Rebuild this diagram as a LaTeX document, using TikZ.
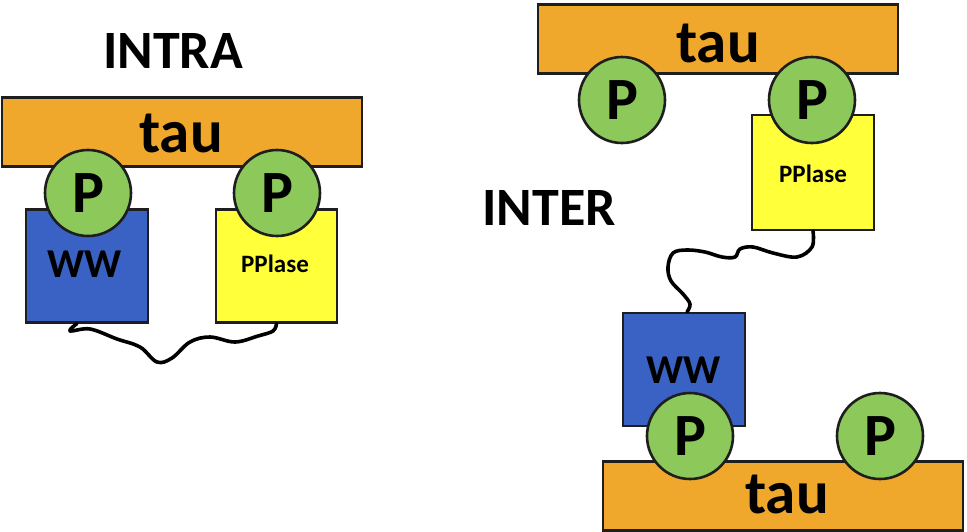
\documentclass[tikz,border=0pt]{standalone}
\usepackage{fontspec}
\setmainfont{Carlito}
\definecolor{taucol}{HTML}{F0A82C}
\definecolor{pcol}{HTML}{8CC85A}
\definecolor{wwcol}{HTML}{3A62C4}
\definecolor{ppcol}{HTML}{FFFF3A}
\definecolor{edge}{HTML}{1E1E1E}
\tikzset{
  taubar/.style={draw=edge, line width=2.4pt, fill=taucol, minimum width=360pt, minimum height=69pt, inner sep=0pt},
  pcirc/.style={circle, draw=edge, line width=2.6pt, fill=pcol, minimum size=86pt, inner sep=0pt, font=\fontsize{60}{60}\selectfont\bfseries},
  dombox/.style={draw=edge, line width=2.2pt, minimum width=122pt, minimum height=113pt, inner sep=0pt},
  lbl/.style={anchor=base, inner sep=0pt, text=black},
  wire/.style={line width=3.6pt, draw=black, line cap=round, line join=round}
}
\begin{document}
\begin{tikzpicture}[x=1pt,y=-1pt]
\useasboundingbox[fill=white] (0,0) rectangle (967,531);
% ---------- INTRA ----------
\node[lbl, font=\fontsize{54}{54}\selectfont\bfseries] (intra) at (173,68) {INTRA};
\node[taubar] (tau1) at (182,132) {};
\node[lbl, font=\fontsize{61}{61}\selectfont\bfseries] (tau1t) at (181,152) {tau};
\node[dombox, fill=wwcol] (ww1) at (87,266) {};
\node[lbl, font=\fontsize{41}{41}\selectfont\bfseries] (ww1t) at (85,277) {WW};
\node[dombox, fill=ppcol, minimum width=121pt] (pp1) at (276.5,266) {};
\node[lbl, font=\fontsize{25}{25}\selectfont\bfseries] (pp1t) at (275,272) {PPlase};
\coordinate (w1s) at ([xshift=-10pt]ww1.south);
\draw[wire] plot[smooth, tension=0.6] coordinates {(w1s) (70,331) (90,329) (117,339) (140,347) (157,362) (172,358) (190,342) (210,337) (235,342) (258,336) (273,331) (pp1.south)};
\node[pcirc] (p1) at (88,193) {P};
\node[pcirc] (p2) at (277,193) {P};
% ---------- INTER ----------
\node[lbl, font=\fontsize{54}{54}\selectfont\bfseries] (inter) at (549,225) {INTER};
\node[taubar] (tau2) at (718,39) {};
\node[lbl, font=\fontsize{61}{61}\selectfont\bfseries] (tau2t) at (718,62) {tau};
\node[dombox, fill=ppcol, minimum height=115pt] (pp2) at (813,172.5) {};
\node[lbl, font=\fontsize{25}{25}\selectfont\bfseries] (pp2t) at (813,182) {PPlase};
\node[dombox, fill=wwcol] (ww2) at (684,369.5) {};
\node[lbl, font=\fontsize{41}{41}\selectfont\bfseries] (ww2t) at (684,383) {WW};
\coordinate (w2n) at ([xshift=3pt]ww2.north);
\draw[wire] plot[smooth, tension=0.6] coordinates {(pp2.south) (812,247) (797,257) (773,253) (753,247) (740,249) (735,257) (722,257) (705,252) (687,250) (673,253) (668,267) (671,281) (683,294) (690,304) (w2n)};
\node[taubar] (tau3) at (783,496) {};
\node[lbl, font=\fontsize{61}{61}\selectfont\bfseries] (tau3t) at (787,513) {tau};
\node[pcirc] (p3) at (622,100) {P};
\node[pcirc] (p4) at (812,100) {P};
\node[pcirc] (p5) at (690,436) {P};
\node[pcirc] (p6) at (880,436) {P};
\end{tikzpicture}
\end{document}
